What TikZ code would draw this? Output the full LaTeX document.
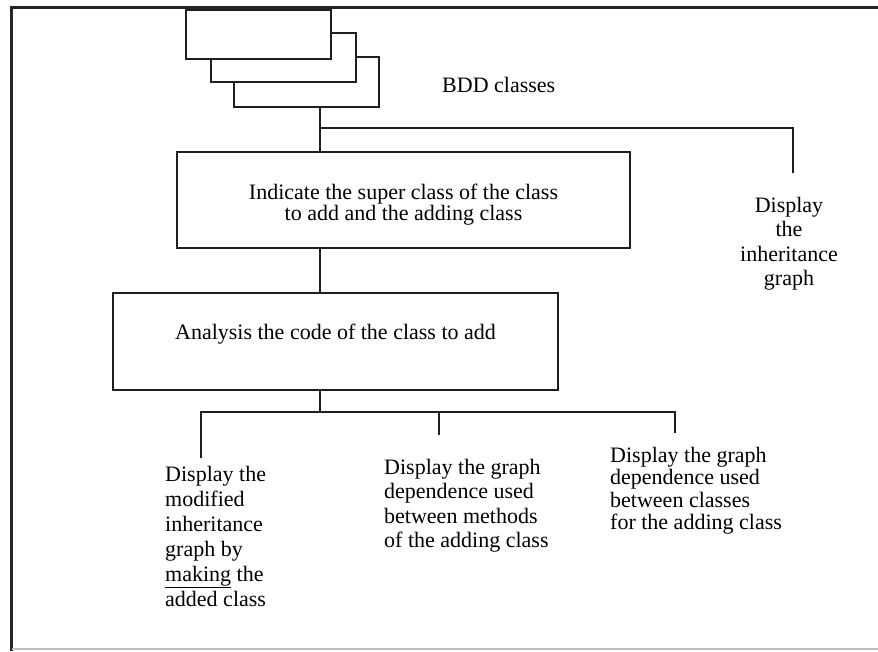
\documentclass[tikz,border=0pt]{standalone}
\usepackage{fontspec}
\setmainfont{Liberation Serif}
\begin{document}
\begin{tikzpicture}[x=1pt,y=-1pt,
  ln/.style={draw=black!88,line width=2pt},
  boxst/.style={ln,rectangle,fill=white,inner sep=0pt,align=center,font=\fontsize{22}{21}\selectfont},
  txt/.style={inner sep=0pt,font=\fontsize{22}{25}\selectfont,text=black}]
\useasboundingbox (0,0) rectangle (878,651);
% frame
\draw[draw=black!85,line width=3pt] (878,7) -- (11,7) -- (11,651);
\draw[draw=black!25,line width=1.5pt] (12,649) -- (878,649);
% stacked BDD class boxes
\node[boxst,minimum width=145pt,minimum height=50pt] (c3) at (306.5,81.5) {};
\node[boxst,minimum width=145pt,minimum height=49pt] (c2) at (283.5,57.5) {};
\node[boxst,minimum width=145pt,minimum height=49pt] (c1) at (258.5,34.5) {};
\node[txt,anchor=west] (bdd) at (442,85) {BDD classes};
% main boxes
\node[boxst,minimum width=453pt,minimum height=96pt,
  label={[txt,align=center,font=\fontsize{22}{21}\selectfont,yshift=-5pt]center:Indicate the super class of the class\\to add and the adding class}]
  (ind) at (403.5,200) {};
\node[boxst,minimum width=445pt,minimum height=97pt,text height=15pt,text depth=20pt] (ana) at (335.5,341.5)
  {Analysis the code of the class to add};
% text leaves
\node[txt,align=center,anchor=north,font=\fontsize{22}{24.5}\selectfont] (dinh) at (789,197)
  {Display\\the\\inheritance\\graph};
\node[txt,align=left,anchor=north west] (dmod) at (165,466)
  {Display the\\modified\\inheritance\\graph by\\\underline{making} the\\added class};
\node[txt,align=left,anchor=north west,font=\fontsize{22}{24.3}\selectfont] (dmet) at (384,459)
  {Display the graph\\dependence used\\between methods\\of the adding class};
\node[txt,align=left,anchor=north west,font=\fontsize{22}{22.5}\selectfont] (dcls) at (610,447)
  {Display the graph\\dependence used\\between classes\\for the adding class};
% connector points
\coordinate (j1) at (320,128);
\coordinate (e1) at (793,173);
\coordinate (j2) at (320,412);
\coordinate (e2) at (201,458);
\coordinate (e3) at (439,435);
\coordinate (e4) at (675,433);
% connectors
\draw[ln] (j1 |- c3.south) -- (j1 |- ind.north);
\draw[ln] (j1) -| (e1);
\draw[ln] (j1 |- ind.south) -- (j1 |- ana.north);
\draw[ln] (j2 |- ana.south) -- (j2);
\draw[ln] (e2) |- (j2) -| (e4);
\draw[ln] (e3) -- (e3 |- j2);
\end{tikzpicture}
\end{document}
